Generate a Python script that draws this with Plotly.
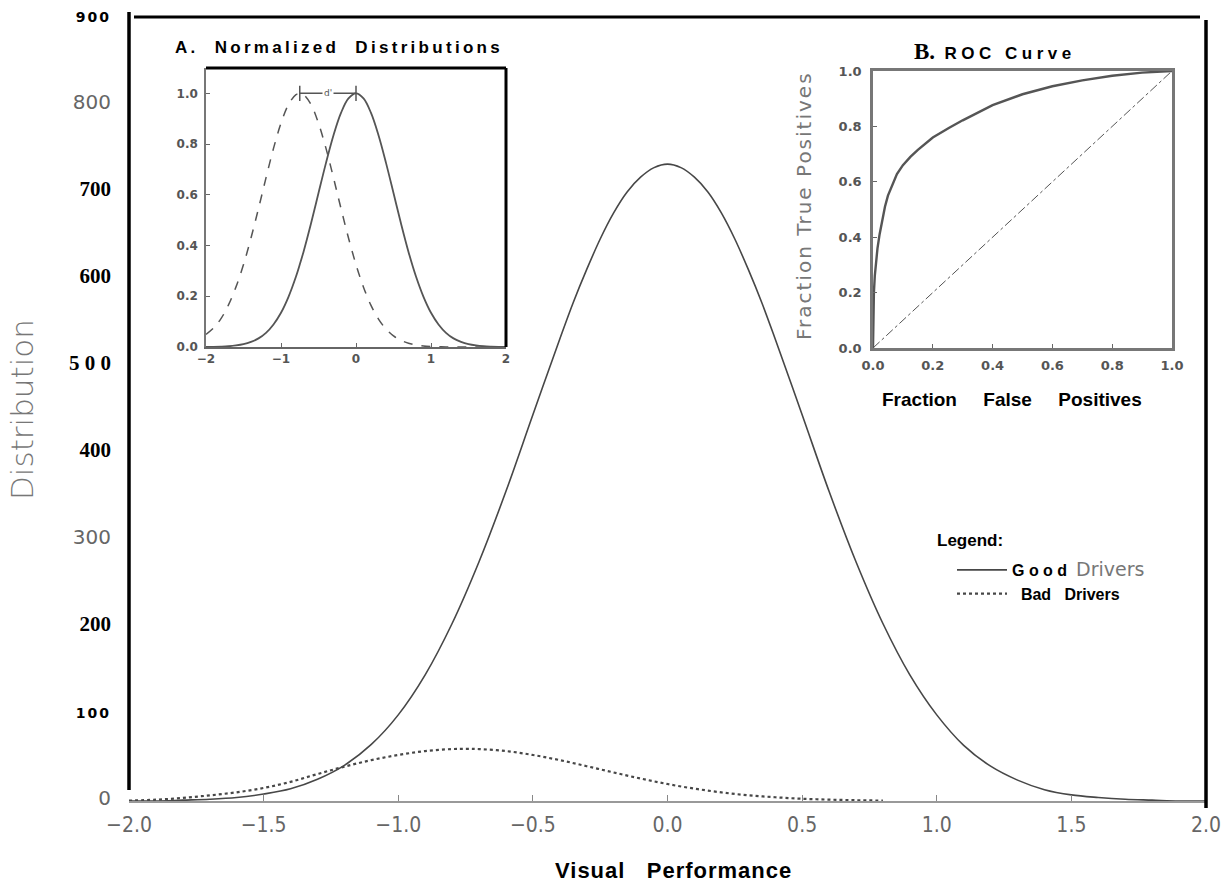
import plotly.graph_objects as go

# ---------------- data ----------------
# Main panel: Visual Performance grid
vp_x = [-2.0, -1.9, -1.8, -1.7, -1.6, -1.5, -1.4, -1.3, -1.2, -1.1, -1.0,
        -0.9, -0.8, -0.7, -0.6, -0.5, -0.4, -0.35, -0.3, -0.25, -0.2, -0.15, -0.1, -0.05, 0.0,
        0.05, 0.1, 0.15, 0.2, 0.25, 0.3, 0.35, 0.4, 0.5, 0.6, 0.7, 0.8, 0.9, 1.0,
        1.1, 1.2, 1.3, 1.4, 1.5, 1.6, 1.7, 1.8, 1.9, 2.0]
good_drivers = [0, 0, 1, 2, 4, 8, 14, 25, 41, 65, 99,
                145, 204, 275, 356, 444, 531, 573, 611, 646, 676, 700, 717, 728, 732,
                728, 717, 700, 676, 646, 611, 573, 531, 444, 356, 275, 204, 145, 99,
                64, 40, 24, 13, 7, 4, 2, 1, 0, 0]

bad_x = [-2.0, -1.9, -1.8, -1.7, -1.6, -1.5, -1.4, -1.3, -1.2, -1.1, -1.0,
         -0.9, -0.8, -0.75, -0.7, -0.6, -0.5, -0.4, -0.3, -0.2, -0.1, 0.0,
         0.1, 0.2, 0.3, 0.4, 0.5, 0.6, 0.7, 0.8]
bad_drivers = [0.5, 1.5, 3.5, 6.5, 10.0, 15.0, 22.0, 31.0, 39.5, 47.0, 52.9,
               57.4, 59.7, 60.0, 59.7, 57.4, 52.9, 47.0, 40.0, 32.8, 25.8, 19.5,
               14.2, 9.9, 6.6, 4.3, 2.6, 1.6, 0.9, 0.5]

x_ticks = [-2.0, -1.5, -1.0, -0.5, 0.0, 0.5, 1.0, 1.5, 2.0]
x_ticktext = ["\u22122.0", "\u22121.5", "\u22121.0", "\u22120.5", "0.0", "0.5", "1.0", "1.5", "2.0"]
y_ticks = [0, 100, 200, 300, 400, 500, 600, 700, 800, 900]

# Inset A: normalized distributions
norm_x = [-2.0, -1.9, -1.8, -1.7, -1.6, -1.5, -1.4, -1.3, -1.2, -1.1, -1.0,
          -0.9, -0.8, -0.75, -0.7, -0.6, -0.5, -0.4, -0.3, -0.2, -0.1, 0.0,
          0.1, 0.2, 0.3, 0.4, 0.5, 0.6, 0.7, 0.8, 0.9, 1.0,
          1.1, 1.2, 1.3, 1.4, 1.5, 1.6, 1.7, 1.8, 1.9, 2.0]
norm_good = [0.0003, 0.0007, 0.0015, 0.003, 0.006, 0.011, 0.020, 0.034, 0.056, 0.089, 0.135,
             0.198, 0.278, 0.325, 0.375, 0.487, 0.607, 0.726, 0.835, 0.923, 0.980, 1.0,
             0.980, 0.923, 0.835, 0.726, 0.607, 0.487, 0.375, 0.278, 0.198, 0.135,
             0.089, 0.056, 0.034, 0.020, 0.011, 0.006, 0.003, 0.0015, 0.0007, 0.0003]
norm_bad = [0.050, 0.075, 0.112, 0.166, 0.237, 0.325, 0.430, 0.546, 0.667, 0.783, 0.882,
            0.956, 0.995, 1.0, 0.995, 0.956, 0.882, 0.783, 0.667, 0.546, 0.430, 0.325,
            0.236, 0.164, 0.110, 0.071, 0.044, 0.026, 0.015, 0.008, 0.004, 0.002,
            0.001, 0.0, 0.0, 0.0, 0.0, 0.0, 0.0, 0.0, 0.0, 0.0]
dprime_x = [-0.75, 0.0]
dprime_y = [1.0, 1.0]
insetA_xticks = [-2, -1, 0, 1, 2]
insetA_xtext = ["\u22122", "\u22121", "0", "1", "2"]
inset_yticks = [0.0, 0.2, 0.4, 0.6, 0.8, 1.0]
inset_ytext = ["0.0", "0.2", "0.4", "0.6", "0.8", "1.0"]

# Inset B: ROC curve
roc_fpr = [0.0, 0.001, 0.003, 0.006, 0.01, 0.015, 0.022, 0.03, 0.04, 0.05, 0.064,
           0.08, 0.1, 0.125, 0.15, 0.2, 0.255, 0.3, 0.4, 0.5, 0.6, 0.7, 0.8, 0.9, 1.0]
roc_tpr = [0.0, 0.12, 0.2, 0.26, 0.31, 0.36, 0.41, 0.46, 0.51, 0.55, 0.59,
           0.628, 0.66, 0.69, 0.715, 0.76, 0.795, 0.822, 0.877, 0.916, 0.945, 0.966, 0.983, 0.994, 1.0]
chance_x = [0.0, 1.0]
chance_y = [0.0, 1.0]
roc_ticks = [0.0, 0.2, 0.4, 0.6, 0.8, 1.0]
roc_ticktext = ["0.0", "0.2", "0.4", "0.6", "0.8", "1.0"]

# ---------------- helpers ----------------
W, H = 1229, 893
def px(x):
    return x / W
def py(y):
    return 1 - y / H

SERIF_B = "font-family:Liberation Serif;font-size:21px;color:#000"
SANS_G = "font-family:DejaVu Sans;font-size:20px;color:#666"
SANS_SB = "font-family:DejaVu Sans;font-size:14px;color:#000;letter-spacing:2px"

y_ticktext = [
    f'<span style="{SANS_G}">0</span>',
    f'<span style="{SANS_SB}"><b>100</b></span>',
    f'<span style="{SERIF_B}"><b>200</b></span>',
    f'<span style="{SANS_G}">300</span>',
    f'<span style="{SERIF_B}"><b>400</b></span>',
    f'<span style="{SERIF_B}"><b>5\u00a00\u00a00</b></span>',
    f'<span style="{SERIF_B}"><b>600</b></span>',
    f'<span style="{SERIF_B}"><b>700</b></span>',
    f'<span style="{SANS_G}">800</span>',
    f'<span style="{SANS_SB}"><b>900</b></span>',
]
insetA_xtext_b = [f"<b>{t}</b>" for t in insetA_xtext]
inset_ytext_b = [f"<b>{t}</b>" for t in inset_ytext]
roc_ticktext_b = [f"<b>{t}</b>" for t in roc_ticktext]

CURVE = "#474747"

fig = go.Figure()

# main curves
fig.add_trace(go.Scatter(
    x=vp_x, y=good_drivers, mode="lines", line=dict(color=CURVE, width=1.6, shape="spline"),
    name='<b>G\u00a0o\u00a0o\u00a0d</b>\u00a0\u00a0<span style="font-family:DejaVu Sans;font-size:19px;color:#777">Drivers</span>',
    xaxis="x", yaxis="y", showlegend=True))
fig.add_trace(go.Scatter(
    x=bad_x, y=bad_drivers, mode="lines", line=dict(color=CURVE, width=2.2, dash="dot", shape="spline"),
    name="\u00a0\u00a0<b>Bad\u00a0\u00a0\u00a0Drivers</b>",
    xaxis="x", yaxis="y", showlegend=True))

# inset A
fig.add_trace(go.Scatter(
    x=norm_x, y=norm_good, mode="lines", line=dict(color="#555", width=1.8, shape="spline"),
    xaxis="x2", yaxis="y2", showlegend=False))
fig.add_trace(go.Scatter(
    x=norm_x, y=norm_bad, mode="lines", line=dict(color="#555", width=1.5, dash="dash", shape="spline"),
    xaxis="x2", yaxis="y2", showlegend=False))
fig.add_trace(go.Scatter(
    x=dprime_x, y=dprime_y, mode="lines+markers",
    line=dict(color="#555", width=1.5),
    marker=dict(symbol="line-ns", size=11, line=dict(color="#555", width=1.5)),
    xaxis="x2", yaxis="y2", showlegend=False))

# inset B
fig.add_trace(go.Scatter(
    x=roc_fpr, y=roc_tpr, mode="lines", line=dict(color="#555", width=2.4),
    xaxis="x3", yaxis="y3", showlegend=False))
fig.add_trace(go.Scatter(
    x=chance_x, y=chance_y, mode="lines", line=dict(color="#555", width=1, dash="dashdot"),
    xaxis="x3", yaxis="y3", showlegend=False))

fig.update_layout(
    width=W, height=H,
    margin=dict(l=0, r=0, t=0, b=0, autoexpand=False),
    paper_bgcolor="white", plot_bgcolor="white",
    font=dict(family="Liberation Sans, Arial, sans-serif", color="#000"),
    xaxis=dict(domain=[px(129), px(1206)], range=[-2, 2], anchor="y", automargin=False,
               tickvals=x_ticks, ticktext=x_ticktext,
               tickfont=dict(family="Liberation Sans Narrow, DejaVu Sans Condensed, sans-serif", size=21, color="#666"),
               ticks="inside", ticklen=6, tickcolor="#888",
               showline=True, linecolor="#999", linewidth=1.5,
               showgrid=False, zeroline=False, ticklabelstandoff=4),
    yaxis=dict(domain=[py(801), py(18)], range=[0, 900], anchor="x", automargin=False,
               tickvals=y_ticks, ticktext=y_ticktext,
               ticks="", showline=False, showgrid=False, zeroline=False,
               ticklabelstandoff=17),
    xaxis2=dict(domain=[px(206), px(506)], range=[-2, 2], anchor="y2", automargin=False,
                tickvals=insetA_xticks, ticktext=insetA_xtext_b,
                tickfont=dict(family="DejaVu Sans", size=12, color="#555"),
                ticks="inside", ticklen=4, tickcolor="#666",
                showline=True, linecolor="#666", linewidth=2,
                showgrid=False, zeroline=False),
    yaxis2=dict(domain=[py(347), py(68)], range=[0, 1.1], anchor="x2", automargin=False,
                tickvals=inset_yticks, ticktext=inset_ytext_b,
                tickfont=dict(family="DejaVu Sans", size=12, color="#555"),
                ticks="inside", ticklen=4, tickcolor="#666",
                showline=True, linecolor="#777", linewidth=1.5,
                showgrid=False, zeroline=False, ticklabelstandoff=4),
    xaxis3=dict(domain=[px(873), px(1172)], range=[0, 1], anchor="y3", automargin=False,
                tickvals=roc_ticks, ticktext=roc_ticktext_b,
                tickfont=dict(family="DejaVu Sans", size=13, color="#555"),
                ticks="inside", ticklen=4, tickcolor="#666",
                showline=True, mirror=True, linecolor="#777", linewidth=2.5,
                showgrid=False, zeroline=False, ticklabelstandoff=4),
    yaxis3=dict(domain=[py(348), py(71)], range=[0, 1], anchor="x3", automargin=False,
                tickvals=roc_ticks, ticktext=roc_ticktext_b,
                tickfont=dict(family="DejaVu Sans", size=13, color="#555"),
                ticks="inside", ticklen=4, tickcolor="#666",
                showline=True, mirror=True, linecolor="#777", linewidth=2.5,
                showgrid=False, zeroline=False, ticklabelstandoff=6),
    legend=dict(x=px(952), y=py(553), xanchor="left", yanchor="top",
                bgcolor="rgba(0,0,0,0)", font=dict(size=16, color="#000"),
                itemwidth=50, tracegroupgap=0),
    showlegend=True,
)

shapes = [
    # main frame
    dict(type="line", xref="paper", yref="paper", x0=px(129), x1=px(129), y0=py(12), y1=py(790),
         line=dict(color="black", width=3.5)),
    dict(type="line", xref="paper", yref="paper", x0=px(134), x1=px(1200), y0=py(17), y1=py(17),
         line=dict(color="black", width=3)),
    dict(type="line", xref="paper", yref="paper", x0=px(1206), x1=px(1206), y0=py(20), y1=py(808),
         line=dict(color="black", width=3.5)),
    # inset A thick top/right border
    dict(type="line", xref="x2 domain", yref="y2 domain", x0=0, x1=1, y0=1, y1=1,
         line=dict(color="black", width=3)),
    dict(type="line", xref="x2 domain", yref="y2 domain", x0=1, x1=1, y0=1, y1=0,
         line=dict(color="black", width=3)),
]
fig.update_layout(shapes=shapes)

ann = [
    dict(text="Distribution", x=px(22), y=py(410), xref="paper", yref="paper",
         textangle=-90, showarrow=False, xanchor="center", yanchor="middle",
         font=dict(family="DejaVu Sans", size=31, color="#777", weight=200)),
    dict(text='<b><span style="letter-spacing:1px">Visual\u00a0\u00a0\u00a0Performance</span></b>',
         x=px(674), y=py(870), xref="paper", yref="paper",
         showarrow=False, xanchor="center", yanchor="middle",
         font=dict(family="Liberation Sans", size=22, color="#000")),
    dict(text='<b><span style="letter-spacing:3.3px">A.\u00a0 Normalized\u00a0 Distributions</span></b>',
         x=px(173), y=py(48), xref="paper", yref="paper",
         showarrow=False, xanchor="left", yanchor="middle",
         font=dict(family="Liberation Sans", size=17, color="#000")),
    dict(text='<span style="font-family:Liberation Serif;font-size:23px"><b>B.</b></span>\u00a0 '
              '<b><span style="letter-spacing:4.5px">ROC Curve</span></b>',
         x=px(912), y=py(52), xref="paper", yref="paper",
         showarrow=False, xanchor="left", yanchor="middle",
         font=dict(family="Liberation Sans", size=17, color="#000")),
    dict(text='<span style="letter-spacing:2px">Fraction True Positives</span>',
         x=px(804), y=py(206), xref="paper", yref="paper", textangle=-90,
         showarrow=False, xanchor="center", yanchor="middle",
         font=dict(family="DejaVu Sans", size=20, color="#777")),
    dict(text="<b>Fraction\u00a0\u00a0\u00a0\u00a0\u00a0False\u00a0\u00a0\u00a0\u00a0\u00a0Positives</b>",
         x=px(880), y=py(399), xref="paper", yref="paper",
         showarrow=False, xanchor="left", yanchor="middle",
         font=dict(family="Liberation Sans", size=19, color="#000")),
    dict(text="<b>Legend:</b>", x=px(935), y=py(540), xref="paper", yref="paper",
         showarrow=False, xanchor="left", yanchor="middle",
         font=dict(family="Liberation Sans", size=17, color="#000")),
    dict(text="d'", x=-0.37, y=1.0, xref="x2", yref="y2", showarrow=False,
         xanchor="center", yanchor="middle", bgcolor="white",
         font=dict(family="DejaVu Sans", size=9, color="#555")),
]
fig.update_layout(annotations=ann)

fig.write_html("out.html", config={"displayModeBar": False},
               post_script="document.body.style.margin='0px';document.body.style.overflow='hidden';")
